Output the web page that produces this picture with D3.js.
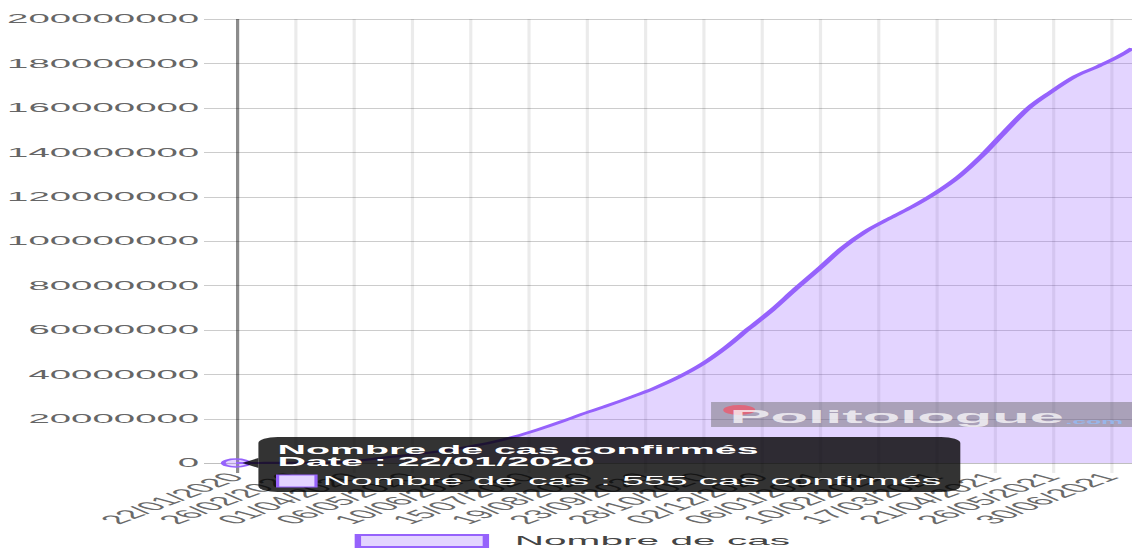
<!DOCTYPE html>
<html lang="fr">

<head>
  <meta charset="utf-8">
  <title>Nombre de cas confirmés</title>
  <script src="https://d3js.org/d3.v7.min.js" charset="utf-8"></script>
  <style type="text/css">
    html, body { margin: 0; padding: 0; background: #fff; overflow: hidden; }
    svg { display: block; }
    text { font-family: 'Helvetica Neue', Helvetica, Arial, 'Liberation Sans', sans-serif; }
  </style>
</head>

<body>
  <svg id="chart" width="1132" height="549" xmlns="http://www.w3.org/2000/svg"></svg>
  <script type="text/javascript">
    // cumulative confirmed cases
    var dates = [
      '2020-01-22', '2020-02-05', '2020-02-19', '2020-03-04', '2020-03-18', '2020-04-01',
      '2020-04-15', '2020-04-29', '2020-05-13', '2020-05-27', '2020-06-10', '2020-06-24',
      '2020-07-08', '2020-07-22', '2020-08-05', '2020-08-19', '2020-09-02', '2020-09-16',
      '2020-09-30', '2020-10-14', '2020-10-28', '2020-11-11', '2020-11-25', '2020-12-09',
      '2020-12-23', '2021-01-06', '2021-01-20', '2021-02-03', '2021-02-17', '2021-03-03',
      '2021-03-17', '2021-03-31', '2021-04-14', '2021-04-28', '2021-05-12', '2021-05-26',
      '2021-06-09', '2021-06-23', '2021-07-07', '2021-07-13'
    ];
    var cases = [
      555, 28000, 75600, 95000, 218000, 930000,
      2000000, 3200000, 4350000, 5700000, 7400000, 9400000,
      12000000, 15200000, 18800000, 22600000, 26100000, 29900000,
      34000000, 38800000, 44600000, 52000000, 60600000, 69000000,
      78400000, 87400000, 96800000, 104300000, 110000000, 115400000,
      121600000, 129000000, 138500000, 149500000, 160000000, 167500000,
      174200000, 178800000, 184000000, 186800000
    ];
    var tickLabels = [
      '22/01/2020', '26/02/2020', '01/04/2020', '06/05/2020', '10/06/2020', '15/07/2020',
      '19/08/2020', '23/09/2020', '28/10/2020', '02/12/2020', '06/01/2021', '10/02/2021',
      '17/03/2021', '21/04/2021', '26/05/2021', '30/06/2021'
    ];
    var yTicks = [0, 20000000, 40000000, 60000000, 80000000, 100000000,
      120000000, 140000000, 160000000, 180000000, 200000000];
    var seriesName = 'Nombre de cas';

    // the original canvas was stretched sideways, so draw at canvas size
    // and let the viewBox stretch everything (text included)
    var SX = 3.2;
    var W = 1132 / SX, H = 549;
    var plot = { left: 73.75, top: 19, bottom: 463 };
    var lineColor = 'rgb(150, 98, 252)';
    var fillColor = 'rgba(153, 102, 255, 0.28)';
    var fontFamily = "'Helvetica Neue', Helvetica, Arial, 'Liberation Sans', sans-serif";

    var svg = d3.select('#chart')
      .attr('viewBox', '0 0 ' + W + ' ' + H)
      .attr('preserveAspectRatio', 'none');

    var parseDate = d3.utcParse('%Y-%m-%d');
    var parseTick = d3.utcParse('%d/%m/%Y');
    var fmtTick = d3.utcFormat('%d/%m/%Y');

    var points = dates.map(function(d, i) {
      return { date: parseDate(d), value: cases[i] };
    });
    var tickDates = tickLabels.map(parseTick);

    var x = d3.scaleUtc()
      .domain([points[0].date, points[points.length - 1].date])
      .range([plot.left, W]);
    var y = d3.scaleLinear()
      .domain([0, yTicks[yTicks.length - 1]])
      .range([plot.bottom, plot.top]);

    // y axis + horizontal grid
    var yAxis = svg.append('g')
      .attr('transform', 'translate(' + (plot.left - 10) + ',0)')
      .call(d3.axisLeft(y)
        .tickValues(yTicks)
        .tickFormat(d3.format('d'))
        .tickSize(-(W - plot.left + 10))
        .tickPadding(1.5))
      .attr('font-size', 12)
      .attr('font-family', fontFamily);
    yAxis.select('.domain').remove();
    yAxis.selectAll('.tick line')
      .attr('stroke', function(d) { return d === 0 ? 'rgba(0,0,0,0.25)' : 'rgba(0,0,0,0.2)'; })
      .attr('shape-rendering', 'crispEdges');
    yAxis.selectAll('.tick text').attr('fill', '#666');

    // x axis + vertical grid
    var xAxis = svg.append('g')
      .attr('transform', 'translate(0,' + (plot.bottom + 10) + ')')
      .call(d3.axisBottom(x)
        .tickValues(tickDates)
        .tickFormat(fmtTick)
        .tickSize(-(plot.bottom + 10 - plot.top)))
      .attr('font-size', 12.3)
      .attr('font-family', fontFamily);
    xAxis.select('.domain').remove();
    xAxis.selectAll('.tick line')
      .attr('stroke', function(d, i) { return i === 0 ? 'rgba(0,0,0,0.45)' : 'rgba(0,0,0,0.08)'; });
    xAxis.selectAll('.tick text')
      .attr('fill', '#6a6a6a')
      .attr('x', 0)
      .attr('y', 0)
      .attr('dy', '0.32em')
      .attr('text-anchor', 'end')
      .attr('transform', 'translate(-0.5,2) rotate(-50)');

    // series
    var area = d3.area()
      .x(function(d) { return x(d.date); })
      .y0(y(0))
      .y1(function(d) { return y(d.value); })
      .curve(d3.curveMonotoneX);
    var line = d3.line()
      .x(function(d) { return x(d.date); })
      .y(function(d) { return y(d.value); })
      .curve(d3.curveMonotoneX);

    svg.append('path')
      .datum(points)
      .attr('d', area)
      .attr('fill', fillColor);
    svg.append('path')
      .datum(points)
      .attr('d', line)
      .attr('fill', 'none')
      .attr('stroke', lineColor)
      .attr('stroke-width', 2.1)
      .attr('stroke-linejoin', 'round');

    // hovered point
    var hover = points[0];
    var px = x(hover.date), py = y(hover.value);
    svg.append('circle')
      .attr('cx', px)
      .attr('cy', py)
      .attr('r', 4)
      .attr('fill', fillColor)
      .attr('stroke', lineColor)
      .attr('stroke-width', 1.5);

    // watermark
    var wm = svg.append('g');
    wm.append('rect')
      .attr('x', 222.2).attr('y', 402)
      .attr('width', W - 222.2).attr('height', 25)
      .attr('fill', 'rgba(100,100,100,0.45)');
    wm.append('circle')
      .attr('cx', 231).attr('cy', 410).attr('r', 5)
      .attr('fill', 'rgba(235,90,110,0.8)');
    wm.append('text')
      .attr('x', 228).attr('y', 423)
      .attr('font-size', 19.2)
      .attr('font-weight', 'bold')
      .attr('fill', 'rgba(255,255,255,0.72)')
      .text('Politologue');
    wm.append('text')
      .attr('x', 333).attr('y', 424)
      .attr('font-size', 7.7)
      .attr('font-weight', 'bold')
      .attr('fill', 'rgba(150,185,240,0.9)')
      .text('.com');

    // legend (centre sits a little right of the middle, as in the original)
    var legend = svg.append('g');
    var legendText = legend.append('text')
      .attr('y', 541)
      .attr('dy', '0.32em')
      .attr('font-size', 12.7)
      .attr('fill', '#444')
      .text(seriesName);
    var legendW = 40 + 9 + legendText.node().getComputedTextLength();
    var lx = W / 2 + 2.5 - legendW / 2;
    legend.insert('rect', 'text')
      .attr('x', lx).attr('y', 535)
      .attr('width', 40).attr('height', 12)
      .attr('fill', fillColor)
      .attr('stroke', lineColor)
      .attr('stroke-width', 2);
    legendText.attr('x', lx + 49);

    // tooltip on the first point
    var tip = svg.append('g');
    var bx = px + 5 + 2, by = py - 26, bh = 55;
    var tipBox = tip.append('rect');
    var tipCaret = tip.append('path');
    var titleLines = ['Nombre de cas confirmés', 'Date : ' + fmtTick(hover.date)];
    var bodyLine = seriesName + ' : ' + hover.value + ' cas confirmés';

    var titleW = 0;
    titleLines.forEach(function(t, i) {
      var el = tip.append('text')
        .attr('x', bx + 6)
        .attr('y', by + 17 + i * 12.5)
        .attr('font-size', 12.3)
        .attr('font-weight', 'bold')
        .attr('fill', '#fff')
        .text(t);
      titleW = Math.max(titleW, el.node().getComputedTextLength());
    });
    tip.append('rect')
      .attr('x', bx + 6).attr('y', by + 38)
      .attr('width', 12).attr('height', 12)
      .attr('fill', '#fff');
    tip.append('rect')
      .attr('x', bx + 6).attr('y', by + 38)
      .attr('width', 12).attr('height', 12)
      .attr('fill', fillColor)
      .attr('stroke', lineColor)
      .attr('stroke-width', 1);
    var body = tip.append('text')
      .attr('x', bx + 20)
      .attr('y', by + 48.5)
      .attr('font-size', 12.3)
      .attr('fill', '#fff')
      .text(bodyLine);
    var bw = Math.max(titleW, 14 + body.node().getComputedTextLength()) + 12;

    tipBox
      .attr('x', bx).attr('y', by)
      .attr('width', bw).attr('height', bh)
      .attr('rx', 6).attr('ry', 6)
      .attr('fill', 'rgba(0,0,0,0.8)');
    tipCaret
      .attr('d', 'M' + bx + ',' + (py - 5) + 'L' + (bx - 5) + ',' + py + 'L' + bx + ',' + (py + 5) + 'Z')
      .attr('fill', 'rgba(0,0,0,0.8)');
  </script>
</body>

</html>
